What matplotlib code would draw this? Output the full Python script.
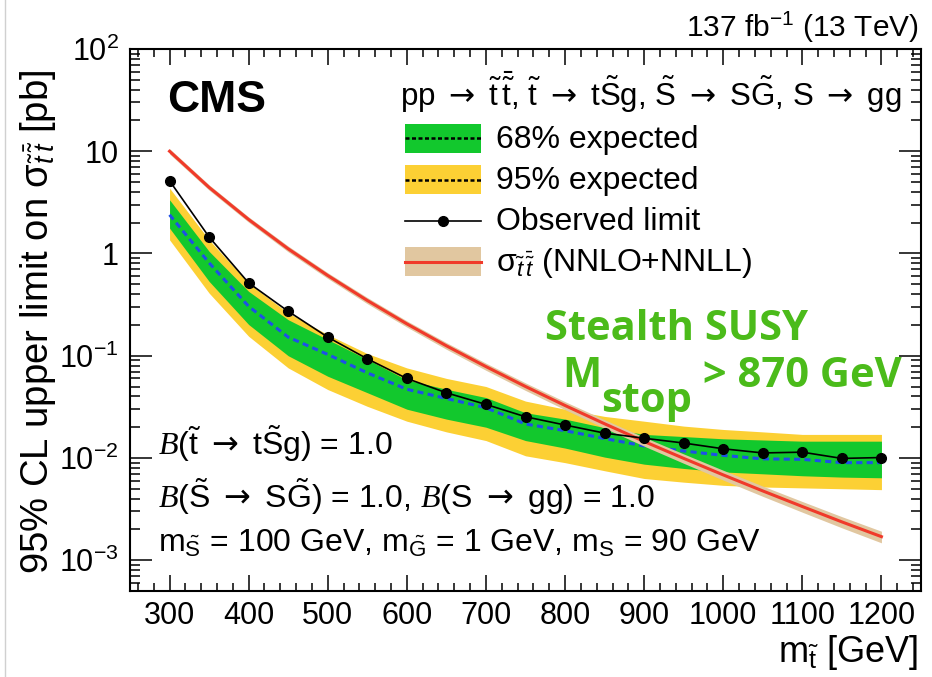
import numpy as np
import matplotlib
matplotlib.use("Agg")
import matplotlib.pyplot as plt
from matplotlib.patches import Rectangle
from matplotlib.lines import Line2D
from matplotlib.ticker import FixedLocator, FixedFormatter, MultipleLocator, LogLocator, NullFormatter

plt.rcParams.update({
    'font.family': ['Liberation Sans', 'DejaVu Sans'],
    'mathtext.fontset': 'custom',
    'mathtext.rm': 'Liberation Sans',
    'mathtext.it': 'Liberation Sans:italic',
    'mathtext.bf': 'Liberation Sans:bold',
    'mathtext.cal': 'Liberation Serif:italic',
    'mathtext.sf': 'DejaVu Sans',
})

# ---------------- data ----------------
mass = [300, 350, 400, 450, 500, 550, 600, 650, 700, 750,
        800, 850, 900, 950, 1000, 1050, 1100, 1150, 1200]
observed = [5.14, 1.45, 0.515, 0.272, 0.152, 0.0933, 0.0599, 0.0434, 0.0334, 0.0253,
            0.0210, 0.0175, 0.0156, 0.0140, 0.0123, 0.0112, 0.0114, 0.0099, 0.0101]
expected = [2.39, 0.81, 0.304, 0.152, 0.103, 0.068, 0.047, 0.0382, 0.031, 0.0215,
            0.0185, 0.0155, 0.0131, 0.0117, 0.0106, 0.0098, 0.0097, 0.0090, 0.0090]
exp_1s_up = [3.35, 1.05, 0.426, 0.225, 0.144, 0.092, 0.058, 0.047, 0.039, 0.0277,
             0.024, 0.0198, 0.0170, 0.0162, 0.0154, 0.0150, 0.0146, 0.0146, 0.0146]
exp_1s_dn = [1.77, 0.534, 0.202, 0.100, 0.063, 0.0435, 0.030, 0.024, 0.020, 0.0148,
             0.0125, 0.0102, 0.0087, 0.0079, 0.0073, 0.0070, 0.0067, 0.0065, 0.0064]
exp_2s_up = [4.36, 1.36, 0.51, 0.262, 0.161, 0.105, 0.076, 0.060, 0.050, 0.036,
             0.030, 0.0255, 0.0229, 0.0205, 0.019, 0.018, 0.017, 0.017, 0.017]
exp_2s_dn = [1.36, 0.41, 0.155, 0.076, 0.0467, 0.032, 0.0229, 0.018, 0.0148, 0.0105,
             0.0090, 0.0075, 0.0063, 0.0058, 0.0054, 0.0052, 0.0051, 0.0050, 0.0049]
theory = [10.0, 4.43, 2.15, 1.11, 0.609, 0.347, 0.205, 0.125, 0.0783, 0.0500,
          0.0326, 0.0216, 0.0145, 0.00991, 0.00683, 0.00476, 0.00335, 0.00237, 0.00170]
theory_rel_unc = [0.06, 0.06, 0.06, 0.065, 0.065, 0.07, 0.07, 0.075, 0.08, 0.085,
                  0.09, 0.095, 0.10, 0.105, 0.11, 0.115, 0.12, 0.125, 0.13]

xtick_values = [300, 400, 500, 600, 700, 800, 900, 1000, 1100, 1200]
xtick_labels = [str(v) for v in xtick_values]
ytick_values = [1e-3, 1e-2, 1e-1, 1, 10, 100]
ytick_labels = [r"$10^{-3}$", r"$10^{-2}$", r"$10^{-1}$", "1", "10", r"$10^{2}$"]

legend_labels = ["68% expected", "95% expected", "Observed limit",
                 r"σ$_{\tilde{t}\,\bar{\tilde{t}}}$ (NNLO+NNLL)"]

# ---------------- colours ----------------
GREEN = "#12C82D"
YELLOW = "#FCD034"
BLUE = "#1E50E6"
RED = "#F03A2A"
TAN = "#E1C7A0"
SUSY_GREEN = "#4BBB1A"

# ---------------- figure / axes ----------------
W, H = 932, 677
fig = plt.figure(figsize=(W / 100, H / 100), dpi=100)
AX_L, AX_R, AX_T, AX_B = 130, 921, 49, 591
ax = fig.add_axes([AX_L / W, 1 - AX_B / H, (AX_R - AX_L) / W, (AX_B - AX_T) / H])


def fx(px):
    return (px - AX_L) / (AX_R - AX_L)


def fy(py):
    return (AX_B - py) / (AX_B - AX_T)


m = np.array(mass, dtype=float)
th = np.array(theory)
th_unc = np.array(theory_rel_unc)

ax.fill_between(m, exp_2s_dn, exp_2s_up, color=YELLOW, lw=0, zorder=1)
ax.fill_between(m, exp_1s_dn, exp_1s_up, color=GREEN, lw=0, zorder=2)
ax.plot(m, expected, color=BLUE, lw=2.2, dashes=(2.0, 1.4), zorder=3)
ax.fill_between(m, th * (1 - th_unc), th * (1 + th_unc), color=TAN, lw=0, zorder=4)
ax.plot(m, th, color=RED, lw=2.2, zorder=5)
ax.plot(m, observed, color="black", lw=1.2, marker="o", ms=7, zorder=6)

ax.set_xlim(250, 1250)
ax.set_yscale("log")
ax.set_ylim(5e-4, 100)

ax.xaxis.set_major_locator(FixedLocator(xtick_values))
ax.xaxis.set_major_formatter(FixedFormatter(xtick_labels))
ax.xaxis.set_minor_locator(MultipleLocator(20))
ax.yaxis.set_major_locator(FixedLocator(ytick_values))
ax.yaxis.set_major_formatter(FixedFormatter(ytick_labels))
ax.yaxis.set_minor_locator(LogLocator(base=10, subs=np.arange(2, 10), numticks=20))
ax.yaxis.set_minor_formatter(NullFormatter())

ax.tick_params(which="both", direction="in", top=True, right=True, width=1.1, labelsize=22)
ax.tick_params(axis="x", which="major", length=11.5, pad=7)
ax.tick_params(axis="x", which="minor", length=5.8)
ax.tick_params(axis="y", which="major", length=16, pad=8)
ax.tick_params(axis="y", which="minor", length=7)
for s in ax.spines.values():
    s.set_linewidth(1.5)

ax.set_xlabel(r"m$_{\tilde{\rm t}}$ [GeV]", fontsize=26, ha="right", va="baseline")
ax.xaxis.set_label_coords(fx(918), fy(662))
ax.set_ylabel(r"95% CL upper limit on σ$_{\tilde{t}\,\bar{\tilde{t}}}$ [pb]",
              fontsize=27.5, va="baseline")
ax.yaxis.set_label_coords(fx(48), fy(322))

T = ax.transAxes
A = r" $\mathsf{\rightarrow}$ "
ax.text(fx(167), fy(112), "CMS", fontsize=32, fontweight="bold", transform=T, va="baseline")
ax.text(fx(919), fy(37), r"137 fb$^{-1}$ (13 TeV)", fontsize=21.5, ha="right",
        va="baseline", transform=T)
ax.text(fx(400), fy(106),
        "pp" + A + r"$\tilde{\rm t}\,\bar{\tilde{\rm t}}$, $\tilde{\rm t}$" + A + r"t$\tilde{\rm S}$g, "
        r"$\tilde{\rm S}$" + A + r"S$\tilde{\rm G}$, S" + A + "gg",
        fontsize=22.5, transform=T, va="baseline")

# legend (manual, ROOT style)
row_centers = [138.3, 179.5, 220.7, 261.7]
bx0, bx1, bh = 405, 481, 29
styles = [
    dict(face=GREEN, line=dict(color="black", lw=1.8, dashes=(1.6, 1.0))),
    dict(face=YELLOW, line=dict(color="black", lw=1.8, dashes=(1.6, 1.0))),
    dict(face=None, line=dict(color="black", lw=1.2, marker="o", ms=7, markevery=[1])),
    dict(face=TAN, line=dict(color=RED, lw=2.2)),
]
for cy, st, lab in zip(row_centers, styles, legend_labels):
    if st["face"] is not None:
        ax.add_patch(Rectangle((fx(bx0), fy(cy + bh / 2)), fx(bx1) - fx(bx0),
                               fy(cy - bh / 2) - fy(cy + bh / 2), transform=T,
                               facecolor=st["face"], edgecolor="none", zorder=10))
    kw = dict(st["line"])
    xs = [fx(bx0), (fx(bx0) + fx(bx1)) / 2, fx(bx1)]
    ax.add_line(Line2D(xs, [fy(cy)] * 3, transform=T, zorder=11, **kw))
    ax.text(fx(496), fy(cy + 9.5), lab, fontsize=23, transform=T, va="baseline", zorder=11)

# model text
ax.text(fx(158), fy(455),
        r"$\mathcal{B}$($\tilde{\rm t}$" + A + r"t$\tilde{\rm S}$g) = 1.0",
        fontsize=23, transform=T, va="baseline")
ax.text(fx(158), fy(508),
        r"$\mathcal{B}$($\tilde{\rm S}$" + A + r"S$\tilde{\rm G}$) = 1.0, $\mathcal{B}$(S" + A + "gg) = 1.0",
        fontsize=23, transform=T, va="baseline")
ax.text(fx(158), fy(552),
        r"m$_{\tilde{\rm S}}$ = 100 GeV, m$_{\tilde{\rm G}}$ = 1 GeV, m$_{\rm S}$ = 90 GeV",
        fontsize=23, transform=T, va="baseline")

# Stealth SUSY result
sfont = dict(family=["Open Sans", "DejaVu Sans"], fontweight="bold", color=SUSY_GREEN)
ax.text(fx(545), fy(340), "Stealth SUSY", fontsize=30, transform=T, va="baseline", **sfont)
tM = ax.text(fx(562), fy(387), "M", fontsize=30, transform=T, va="baseline", **sfont)
tS = ax.annotate("stop", xy=(1, 0), xycoords=tM, xytext=(0, -18), textcoords="offset points",
                 fontsize=30, va="bottom", ha="left", **sfont)
ax.annotate(" > 870 GeV", xy=(1, 0), xycoords=tS, xytext=(0, 18), textcoords="offset points",
            fontsize=30, va="bottom", ha="left", **sfont)

fig.add_artist(Line2D([5 / W, 5 / W], [0, 1], transform=fig.transFigure, color="#d0d0d0", lw=1))

fig.savefig("out.png", dpi=100)
